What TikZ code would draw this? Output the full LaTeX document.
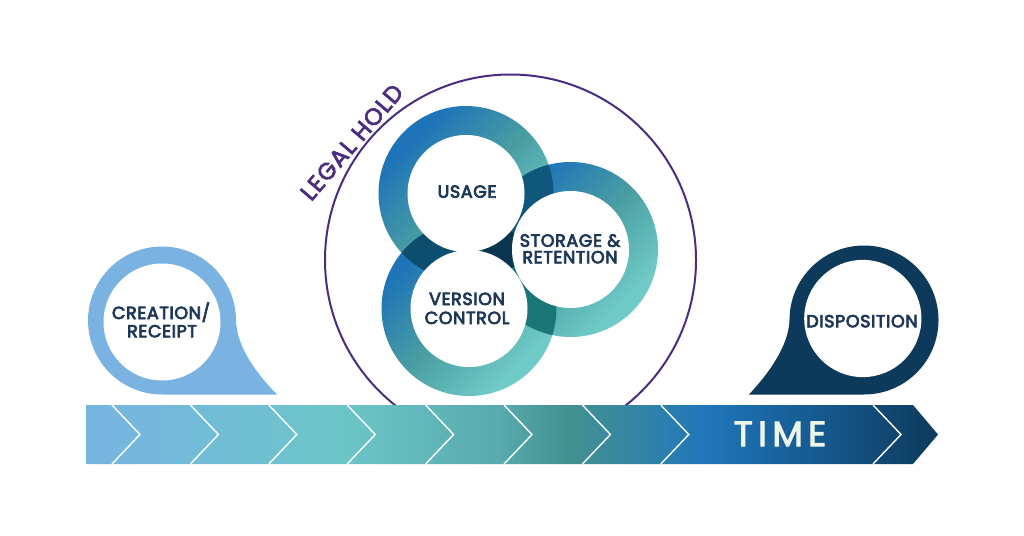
\documentclass[tikz,border=0pt]{standalone}
\usepackage{fontspec}
\newfontfamily\lblfont{Poppins}[FakeBold=4,LetterSpace=3.5]
\newfontfamily\holdfont{Poppins}[FakeBold=3,LetterSpace=5]
\newfontfamily\timefont{Poppins}[FakeBold=3,LetterSpace=16]
\usetikzlibrary{calc}
\definecolor{navytext}{HTML}{1D3757}
\definecolor{creat}{HTML}{7AB3E2}
\definecolor{dispo}{HTML}{0D3A5A}
\definecolor{hold}{HTML}{4B2D7F}
\definecolor{ringblue}{HTML}{1E74B8}
\definecolor{ringmid}{HTML}{4A9EA2}
\definecolor{ringteal}{HTML}{70CBC8}
\definecolor{ovUS}{HTML}{10577C}
\definecolor{ovUV}{HTML}{0D4D6E}
\definecolor{ovSV}{HTML}{1B7678}
\definecolor{ovUSV}{HTML}{0A3550}
\definecolor{timetext}{HTML}{EEF5E9}
\definecolor{bA}{HTML}{78B4E2}
\definecolor{bB}{HTML}{72BCD8}
\definecolor{bC}{HTML}{6CC6C8}
\definecolor{bD}{HTML}{58AAAE}
\definecolor{bE}{HTML}{43918F}
\definecolor{bF}{HTML}{3384A6}
\definecolor{bG}{HTML}{1F76BB}
\definecolor{bH}{HTML}{15568A}
\definecolor{bI}{HTML}{0D3A5A}
\pgfdeclarehorizontalshading{barshade}{100bp}{color(0bp)=(bA); color(25bp)=(bA); color(31.7bp)=(bB); color(39.9bp)=(bC); color(49.3bp)=(bD); color(53.2bp)=(bE); color(57.5bp)=(bF); color(61.3bp)=(bG); color(68.7bp)=(bH); color(75bp)=(bI); color(100bp)=(bI)}
\pgfdeclareverticalshading{ringshade}{100bp}{color(0bp)=(ringteal); color(28bp)=(ringteal); color(50bp)=(ringmid); color(72bp)=(ringblue); color(100bp)=(ringblue)}
\begin{document}
\begin{tikzpicture}[x=1pt,y=-1pt,
  lbl/.style={font=\lblfont\fontsize{17.5}{18}\selectfont, text=navytext, inner sep=0pt, anchor=base},
  holdtxt/.style={font=\holdfont\fontsize{23.5}{24}\selectfont, text=hold, inner sep=0pt, anchor=base},
  timetxt/.style={font=\timefont\fontsize{35}{36}\selectfont, text=timetext, inner sep=0pt, anchor=base},
  chev/.style={white, line width=1.4pt, line join=miter},
  ringsh/.style={shading=ringshade, shading angle=45}]
\useasboundingbox (0,0) rectangle (1024,535);
\fill[white] (0,0) rectangle (1024,535);

% legal hold circle
\coordinate (hc) at (510.5,260);
\draw[hold, line width=2pt] (hc) circle (185.5);
\node[holdtxt, rotate=49.5] (legal) at (358,147.5) {LEGAL HOLD};

% rings
\coordinate (U) at (466,193.5);
\coordinate (V) at (469,308.5);
\coordinate (S) at (570.5,249.5);
\shade[ringsh] (U) circle (87.5);
\shade[ringsh] (S) circle (87.5);
\shade[ringsh] (V) circle (87.5);
\begin{scope}
  \clip (S) circle (87.5);
  \fill[ovSV] (V) circle (87.5);
\end{scope}
\begin{scope}
  \clip (U) circle (87.5);
  \fill[ovUS] (S) circle (87.5);
  \fill[ovUV] (V) circle (87.5);
  \clip (S) circle (87.5);
  \fill[ovUSV] (V) circle (87.5);
\end{scope}
\fill[white] (U) circle (58.5);
\fill[white] (S) circle (58.5);
\fill[white] (V) circle (58.5);
\node[lbl] (usage) at (467,197.7) {USAGE};
\node[lbl] (storage1) at (570,246.7) {STORAGE \&};
\node[lbl] (storage2) at (570,263.3) {RETENTION};
\node[lbl] (version1) at (467,305) {VERSION};
\node[lbl] (version2) at (467,324) {CONTROL};

% creation pin
\coordinate (C) at (162,320.5);
\fill[creat] (236,320.5) .. controls (236.5,341.5) and (249.5,366.5) .. (277,394.5)
  -- (162,394.5) arc[start angle=90, end angle=360, radius=74] -- cycle;
\fill[white] (162,322) circle (58.5);
\node[lbl] (creation1) at (161,319) {CREATION/};
\node[lbl] (creation2) at (162,337.3) {RECEIPT};

% disposition pin
\coordinate (D) at (864,319.5);
\fill[dispo] (789.5,319.5) .. controls (789,340.5) and (776,365.5) .. (749,394.5)
  -- (864,394.5) arc[start angle=90, end angle=-180, radius=74.5] -- cycle;
\fill[white] (862.8,318.5) circle (58.6);
\node[lbl] (disposition) at (862,327.3) {DISPOSITION};

% time bar
\shade[shading=barshade] (86,405) -- (913,405) -- (938,434.5) -- (913,464) -- (86,464) -- cycle;
\foreach \k in {0,...,7}
  \draw[chev] ({112+78.4*\k},405) -- ({140+78.4*\k},434.5) -- ({112+78.4*\k},464);
\draw[chev] (873,405) -- (901,434.5) -- (873,464);
\node[timetxt] (time) at (780,446) {TIME};
\end{tikzpicture}
\end{document}
